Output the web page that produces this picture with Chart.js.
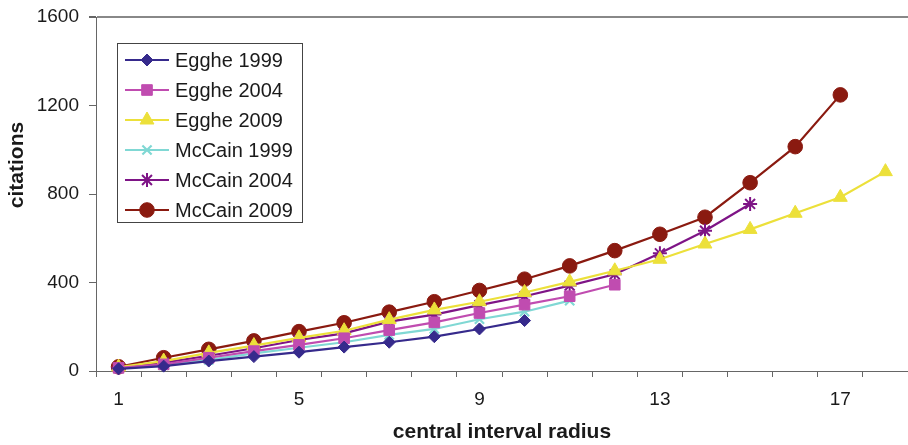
<!DOCTYPE html>
<html>
<head>
<meta charset="utf-8">
<script src="https://cdn.jsdelivr.net/npm/chart.js@4.4.1/dist/chart.umd.min.js"></script>
<style>
  html, body { margin: 0; padding: 0; background: #ffffff; }
  #wrap { width: 908px; height: 445px; position: relative; }
</style>
</head>
<body>
<div id="wrap"><canvas id="c" width="908" height="445"></canvas></div>
<script>
const categories = ['1','2','3','4','5','6','7','8','9','10','11','12','13','14','15','16','17','18'];
const yTicks = [0, 400, 800, 1200, 1600];
const xLabelEvery = 4;
const seriesNames = ['Egghe 1999', 'Egghe 2004', 'Egghe 2009', 'McCain 1999', 'McCain 2004', 'McCain 2009'];
const egghe1999 = [10, 22, 45, 65, 85, 108, 130, 155, 190, 228];
const egghe2004 = [14, 30, 60, 90, 118, 148, 185, 220, 262, 300, 338, 390];
const egghe2009 = [18, 45, 82, 115, 150, 182, 232, 276, 313, 355, 403, 453, 505, 574, 640, 713, 785, 901];
const mccain1999 = [12, 27, 50, 80, 105, 130, 163, 190, 234, 268, 318];
const mccain2004 = [15, 38, 69, 103, 140, 170, 223, 255, 298, 338, 386, 437, 532, 634, 755];
const mccain2009 = [19, 60, 98, 136, 178, 218, 266, 313, 364, 415, 475, 544, 618, 695, 851, 1014, 1248];
const xTitle = 'central interval radius';
const yTitle = 'citations';

const FONT = "'Liberation Sans', Arial, Helvetica, sans-serif";
const styles = [
  { color: '#362a8c', pointStyle: 'rectRot', radius: 6, bw: 1 },
  { color: '#c04cb0', pointStyle: 'rect', radius: 7.5, bw: 1 },
  { color: '#ece03a', pointStyle: 'triangle', radius: 8, bw: 1 },
  { color: '#80d8d4', pointStyle: 'crossRot', radius: 6.5, bw: 2.2 },
  { color: '#7e1486', pointStyle: 'star', radius: 7, bw: 2 },
  { color: '#8a1a10', pointStyle: 'circle', radius: 7.3, bw: 1 }
];
const allData = [egghe1999, egghe2004, egghe2009, mccain1999, mccain2004, mccain2009];

const datasets = allData.map((d, i) => ({
  label: seriesNames[i],
  data: d,
  borderColor: styles[i].color,
  backgroundColor: styles[i].color,
  borderWidth: 2.2,
  pointStyle: styles[i].pointStyle,
  pointRadius: styles[i].radius,
  pointHoverRadius: styles[i].radius,
  pointBorderWidth: styles[i].bw,
  pointBorderColor: styles[i].color,
  pointBackgroundColor: styles[i].color,
  tension: 0,
  fill: false,
  clip: false
}));

const legendBox = { left: 117, top: 43, right: 302, bottom: 222 };

const extras = {
  id: 'extras',
  afterDraw(chart) {
    const ctx = chart.ctx;
    ctx.save();
    ctx.fillStyle = '#ffffff';
    ctx.fillRect(legendBox.left, legendBox.top, legendBox.right - legendBox.left, legendBox.bottom - legendBox.top);
    ctx.strokeStyle = '#444444';
    ctx.lineWidth = 1;
    ctx.strokeRect(legendBox.left + 0.5, legendBox.top + 0.5, legendBox.right - legendBox.left, legendBox.bottom - legendBox.top);
    ctx.font = '20px ' + FONT;
    ctx.textBaseline = 'middle';
    ctx.textAlign = 'left';
    datasets.forEach((ds, i) => {
      const y = 60 + 30 * i;
      ctx.strokeStyle = ds.borderColor;
      ctx.lineWidth = 2.2;
      ctx.beginPath();
      ctx.moveTo(125, y);
      ctx.lineTo(169, y);
      ctx.stroke();
      ctx.fillStyle = ds.pointBackgroundColor;
      ctx.strokeStyle = ds.pointBorderColor;
      ctx.lineWidth = ds.pointBorderWidth;
      if (Chart.helpers && Chart.helpers.drawPoint) {
        Chart.helpers.drawPoint(ctx, { pointStyle: ds.pointStyle, radius: ds.pointRadius, rotation: 0, borderWidth: ds.pointBorderWidth }, 147, y);
      }
      ctx.fillStyle = '#1a1a1a';
      ctx.fillText(ds.label, 175, y + 1);
    });
    ctx.fillStyle = '#1a1a1a';
    ctx.font = 'bold 21px ' + FONT;
    ctx.textAlign = 'center';
    ctx.textBaseline = 'middle';
    const xa = chart.chartArea;
    ctx.fillText(xTitle, (xa.left + xa.right) / 2, 432);
    ctx.translate(17, 165);
    ctx.rotate(-Math.PI / 2);
    ctx.fillText(yTitle, 0, 0);
    ctx.restore();
  }
};

new Chart(document.getElementById('c'), {
  type: 'line',
  data: { labels: categories, datasets },
  plugins: [extras],
  options: {
    responsive: false,
    animation: false,
    layout: { autoPadding: false, padding: { left: 0, right: 0, top: 17, bottom: 0 } },
    plugins: { legend: { display: false }, tooltip: { enabled: false } },
    scales: {
      x: {
        type: 'category',
        offset: true,
        grid: { offset: true, drawOnChartArea: false, drawTicks: true, tickLength: 6, tickColor: '#666666', lineWidth: 1 },
        border: { display: true, color: '#666666', width: 1 },
        ticks: {
          autoSkip: false, maxRotation: 0, minRotation: 0,
          color: '#1a1a1a', font: { family: FONT, size: 19 }, padding: 11,
          callback: (v, i) => (i % xLabelEvery === 0 ? categories[i] : '')
        },
        afterFit(scale) { scale.height = 74; scale.paddingLeft = 0; scale.paddingRight = 0; }
      },
      y: {
        min: 0, max: 1600,
        afterBuildTicks(scale) { scale.ticks = yTicks.map(v => ({ value: v })); },
        grid: {
          drawOnChartArea: true, drawTicks: true, tickLength: 7, tickColor: '#666666',
          color: (c) => (c.tick && c.tick.value === 1600 ? '#888888' : 'rgba(0,0,0,0)'),
          lineWidth: (c) => (c.tick && c.tick.value === 1600 ? 2 : 1)
        },
        border: { display: true, color: '#666666', width: 1 },
        ticks: { color: '#1a1a1a', font: { family: FONT, size: 19 }, padding: 10, callback: (v) => String(v) },
        afterFit(scale) { scale.width = 96; scale.paddingTop = 0; scale.paddingBottom = 0; }
      }
    }
  }
});
</script>
</body>
</html>
